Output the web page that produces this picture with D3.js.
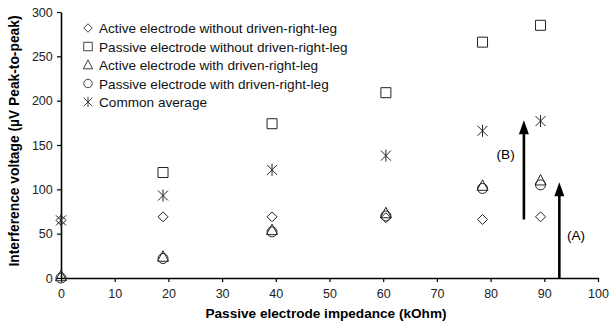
<!DOCTYPE html>
<html>
<head>
<meta charset="utf-8">
<script src="https://cdn.jsdelivr.net/npm/d3@7"></script>
<style>
  body { margin: 0; background: #fff; }
  text { font-family: "Liberation Sans", Arial, sans-serif; }
</style>
</head>
<body>
<script>
// data
var impedance = [0, 19, 39.3, 60.5, 78.5, 89.3];
var activeNoDrl  = [65, 69, 69, 68, 66, 69];
var passiveNoDrl = [null, 119, 174, 209, 266, 285];
var activeDrl    = [2, 24, 54, 73, 104, 110];
var passiveDrl   = [0, 22, 52, 70, 101, 105];
var commonAvg    = [65, 93, 122, 138, 166, 177];

var seriesNames = ["Active electrode without driven-right-leg",
  "Passive electrode without driven-right-leg",
  "Active electrode with driven-right-leg",
  "Passive electrode with driven-right-leg",
  "Common average"];
var seriesShapes = ["diamond", "square", "triangle", "circle", "star"];
var seriesValues = [activeNoDrl, passiveNoDrl, activeDrl, passiveDrl, commonAvg];

var xTicks = [0, 10, 20, 30, 40, 50, 60, 70, 80, 90, 100];
var yTicks = [0, 50, 100, 150, 200, 250, 300];

// arrows
var arrows = [
  {x: 86.2, y0: 66, y1: 178, label: "(B)", lx: 82.8, ly: 140},
  {x: 92.8, y0: 0, y1: 108, label: "(A)", lx: 95.9, ly: 48}
];

var margin = {top: 12, right: 17, bottom: 45, left: 61},
    width = 615 - margin.left - margin.right,
    height = 323 - margin.top - margin.bottom;

var svg = d3.select("body").append("svg")
    .attr("width", 615)
    .attr("height", 323)
    .append("g")
    .attr("transform", "translate(" + margin.left + "," + margin.top + ")");

var x = d3.scaleLinear().domain([0, 100]).range([0, width]);
var y = d3.scaleLinear().domain([0, 300]).range([height, 0]);

var xAxis = d3.axisBottom(x).tickValues(xTicks).tickSize(4).tickSizeOuter(0);
var yAxis = d3.axisLeft(y).tickValues(yTicks).tickSize(4).tickSizeOuter(0);

function styleAxis(g) {
  g.select(".domain").attr("stroke", "#000").attr("stroke-width", 1.6);
  g.selectAll(".tick line").attr("stroke", "#000").attr("stroke-width", 1.2);
  g.selectAll(".tick text")
    .attr("font-family", "Liberation Sans, Arial, sans-serif")
    .attr("font-size", "12.5px")
    .attr("fill", "#222");
}

svg.append("g")
  .attr("transform", "translate(0," + height + ")")
  .call(xAxis)
  .call(styleAxis)
  .selectAll(".tick text").attr("dy", "1.05em");

svg.append("g")
  .call(yAxis)
  .call(styleAxis)
  .selectAll(".tick text").attr("dx", "-0.1em");

// axis titles
svg.append("text")
  .attr("x", 326 - margin.left)
  .attr("y", height + 40)
  .attr("text-anchor", "middle")
  .attr("font-size", "13.6px")
  .attr("font-weight", "bold")
  .text("Passive electrode impedance (kOhm)");

svg.append("text")
  .attr("transform", "translate(" + (-42) + "," + (141 - margin.top) + ") rotate(-90)")
  .attr("text-anchor", "middle")
  .attr("font-size", "13.8px")
  .attr("font-weight", "bold")
  .text("Interference voltage (\u00b5V Peak-to-peak)");

// marker shapes
function markerPath(shape) {
  if (shape === "diamond") return "M0,-5L5,0L0,5L-5,0Z";
  if (shape === "square") return "M-5,-5H5V5H-5Z";
  if (shape === "triangle") return "M0,-6L5.5,4.5H-5.5Z";
  if (shape === "circle") return "M5,0A5,5 0 1,1 -5,0A5,5 0 1,1 5,0Z";
  return "M-5,-5L5,5M5,-5L-5,5M0,-6V6";
}

seriesValues.forEach(function(vals, i) {
  var pts = impedance.map(function(d, j) { return [d, vals[j]]; })
    .filter(function(p) { return p[1] != null; });
  svg.append("g").selectAll("path")
    .data(pts)
    .enter().append("path")
    .attr("transform", function(p) { return "translate(" + x(p[0]) + "," + y(p[1]) + ")"; })
    .attr("d", markerPath(seriesShapes[i]))
    .attr("fill", "none")
    .attr("stroke", "#222")
    .attr("stroke-width", 1);
});

// legend
var legend = svg.append("g").attr("transform", "translate(27,16)");
seriesNames.forEach(function(name, i) {
  var row = legend.append("g").attr("transform", "translate(0," + (i * 18.5) + ")");
  row.append("path")
    .attr("d", markerPath(seriesShapes[i]))
    .attr("transform", "scale(0.85)")
    .attr("fill", "none")
    .attr("stroke", "#222");
  row.append("text")
    .attr("x", 11)
    .attr("y", 5)
    .attr("font-size", "13.6px")
    .attr("fill", "#111")
    .text(name);
});

// arrows
arrows.forEach(function(a) {
  svg.append("line")
    .attr("x1", x(a.x)).attr("x2", x(a.x))
    .attr("y1", y(a.y0)).attr("y2", y(a.y1) + 12)
    .attr("stroke", "#000")
    .attr("stroke-width", 2.6);
  svg.append("path")
    .attr("d", "M" + x(a.x) + "," + y(a.y1) + "l5,14h-10z")
    .attr("fill", "#000");
  svg.append("text")
    .attr("x", x(a.lx))
    .attr("y", y(a.ly) + 5)
    .attr("text-anchor", "middle")
    .attr("font-size", "13.6px")
    .text(a.label);
});
</script>
</body>
</html>
